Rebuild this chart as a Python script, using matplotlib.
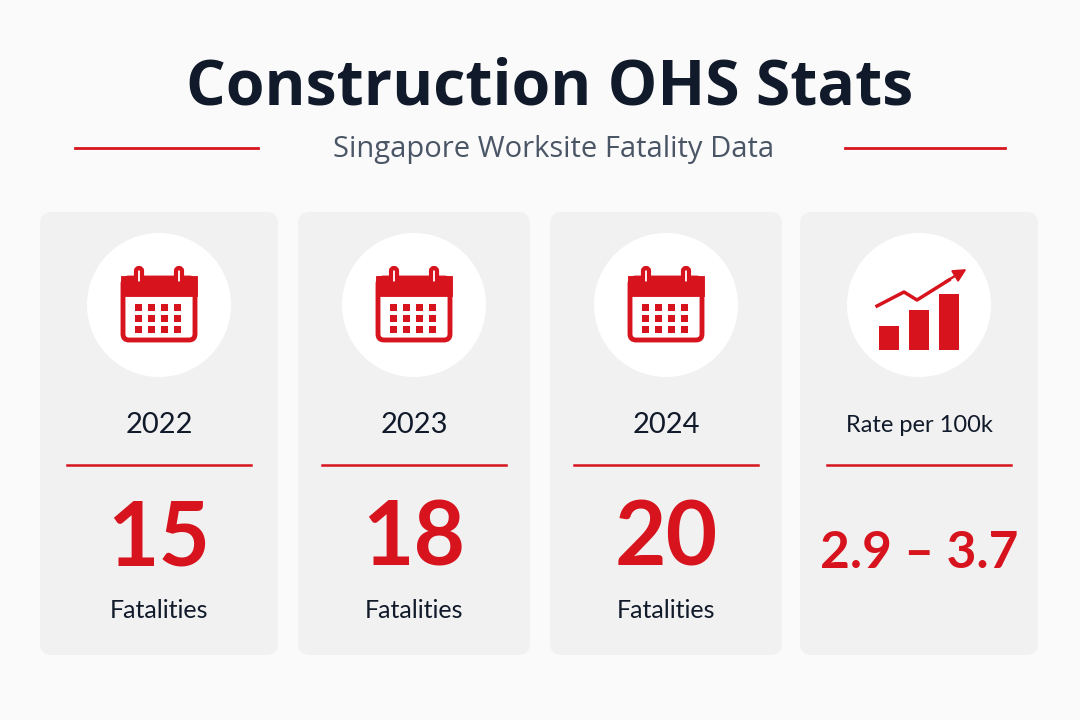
import matplotlib.pyplot as plt
from matplotlib.patches import FancyBboxPatch, Circle, Rectangle, FancyArrow

labels = ["2022", "2023", "2024", "Rate per 100k"]
values = ["15", "18", "20", "2.9 – 3.7"]
subs = ["Fatalities", "Fatalities", "Fatalities", ""]
card_left = [40, 298, 550, 800]
card_width = [238, 232, 232, 238]

RED = "#d7141e"
NAVY = "#111a2a"

fig = plt.figure(figsize=(10.8, 7.2), dpi=100)
fig.patch.set_facecolor("#fafafa")
ax = fig.add_axes([0, 0, 1, 1])
ax.set_xlim(0, 1080)
ax.set_ylim(720, 0)
ax.axis("off")

ax.text(550, 88, "Construction OHS Stats", ha="center", va="center",
        fontsize=45, fontweight="bold", color=NAVY, family="Open Sans")
ax.text(554, 150, "Singapore Worksite Fatality Data", ha="center", va="center",
        fontsize=21, color="#4a5566", family="Open Sans")
ax.plot([75, 258], [148, 148], color=RED, lw=2)
ax.plot([845, 1005], [148, 148], color=RED, lw=2)


def calendar(cx, cy):
    ax.add_patch(FancyBboxPatch((cx - 36, cy - 30), 72, 62, boxstyle="round,pad=0,rounding_size=6",
                                fc="white", ec=RED, lw=3.5))
    ax.add_patch(Rectangle((cx - 36, cy - 30), 72, 16, fc=RED, ec=RED, lw=3.5))
    for dx in (-20, 20):
        ax.add_patch(FancyBboxPatch((cx + dx - 3, cy - 40), 6, 16, boxstyle="round,pad=0,rounding_size=3",
                                    fc="white", ec=RED, lw=3))
    for r in range(3):
        for c in range(4):
            ax.add_patch(Rectangle((cx - 24 + c * 13, cy - 4 + r * 11), 7, 7, fc=RED, ec="none"))


def growth(cx, cy):
    heights = [24, 40, 56]
    for i, h in enumerate(heights):
        ax.add_patch(Rectangle((cx - 40 + i * 30, cy + 42 - h), 20, h, fc=RED, ec="none"))
    ax.plot([cx - 42, cx - 15, cx - 2, cx + 30], [cy - 2, cy - 16, cy - 8, cy - 28], color=RED, lw=2.5)
    ax.add_patch(FancyArrow(cx + 26, cy - 26, 10, -6, width=1, head_width=12, head_length=12,
                            fc=RED, ec=RED))


for i in range(4):
    x0, w = card_left[i], card_width[i]
    cx = x0 + w / 2
    ax.add_patch(FancyBboxPatch((x0, 212), w, 443, boxstyle="round,pad=0,rounding_size=12",
                                fc="#f1f1f1", ec="none"))
    ax.add_patch(Circle((cx, 305), 72, fc="white", ec="none"))
    if i < 3:
        calendar(cx, 308)
    else:
        growth(cx, 308)
    ax.text(cx, 425, labels[i], ha="center", va="center", fontsize=21 if i < 3 else 17,
            color=NAVY, family="Lato")
    ax.plot([cx - 92, cx + 92], [465, 465], color=RED, lw=1.8)
    if i < 3:
        ax.text(cx, 540, values[i], ha="center", va="center", fontsize=64,
                fontweight="bold", color=RED, family="Lato")
    else:
        ax.text(cx, 553, values[i], ha="center", va="center", fontsize=37,
                fontweight="bold", color=RED, family="Lato")
    if subs[i]:
        ax.text(cx, 610, subs[i], ha="center", va="center", fontsize=18, color=NAVY, family="Lato")

fig.savefig("out.png", dpi=100, facecolor=fig.get_facecolor())
